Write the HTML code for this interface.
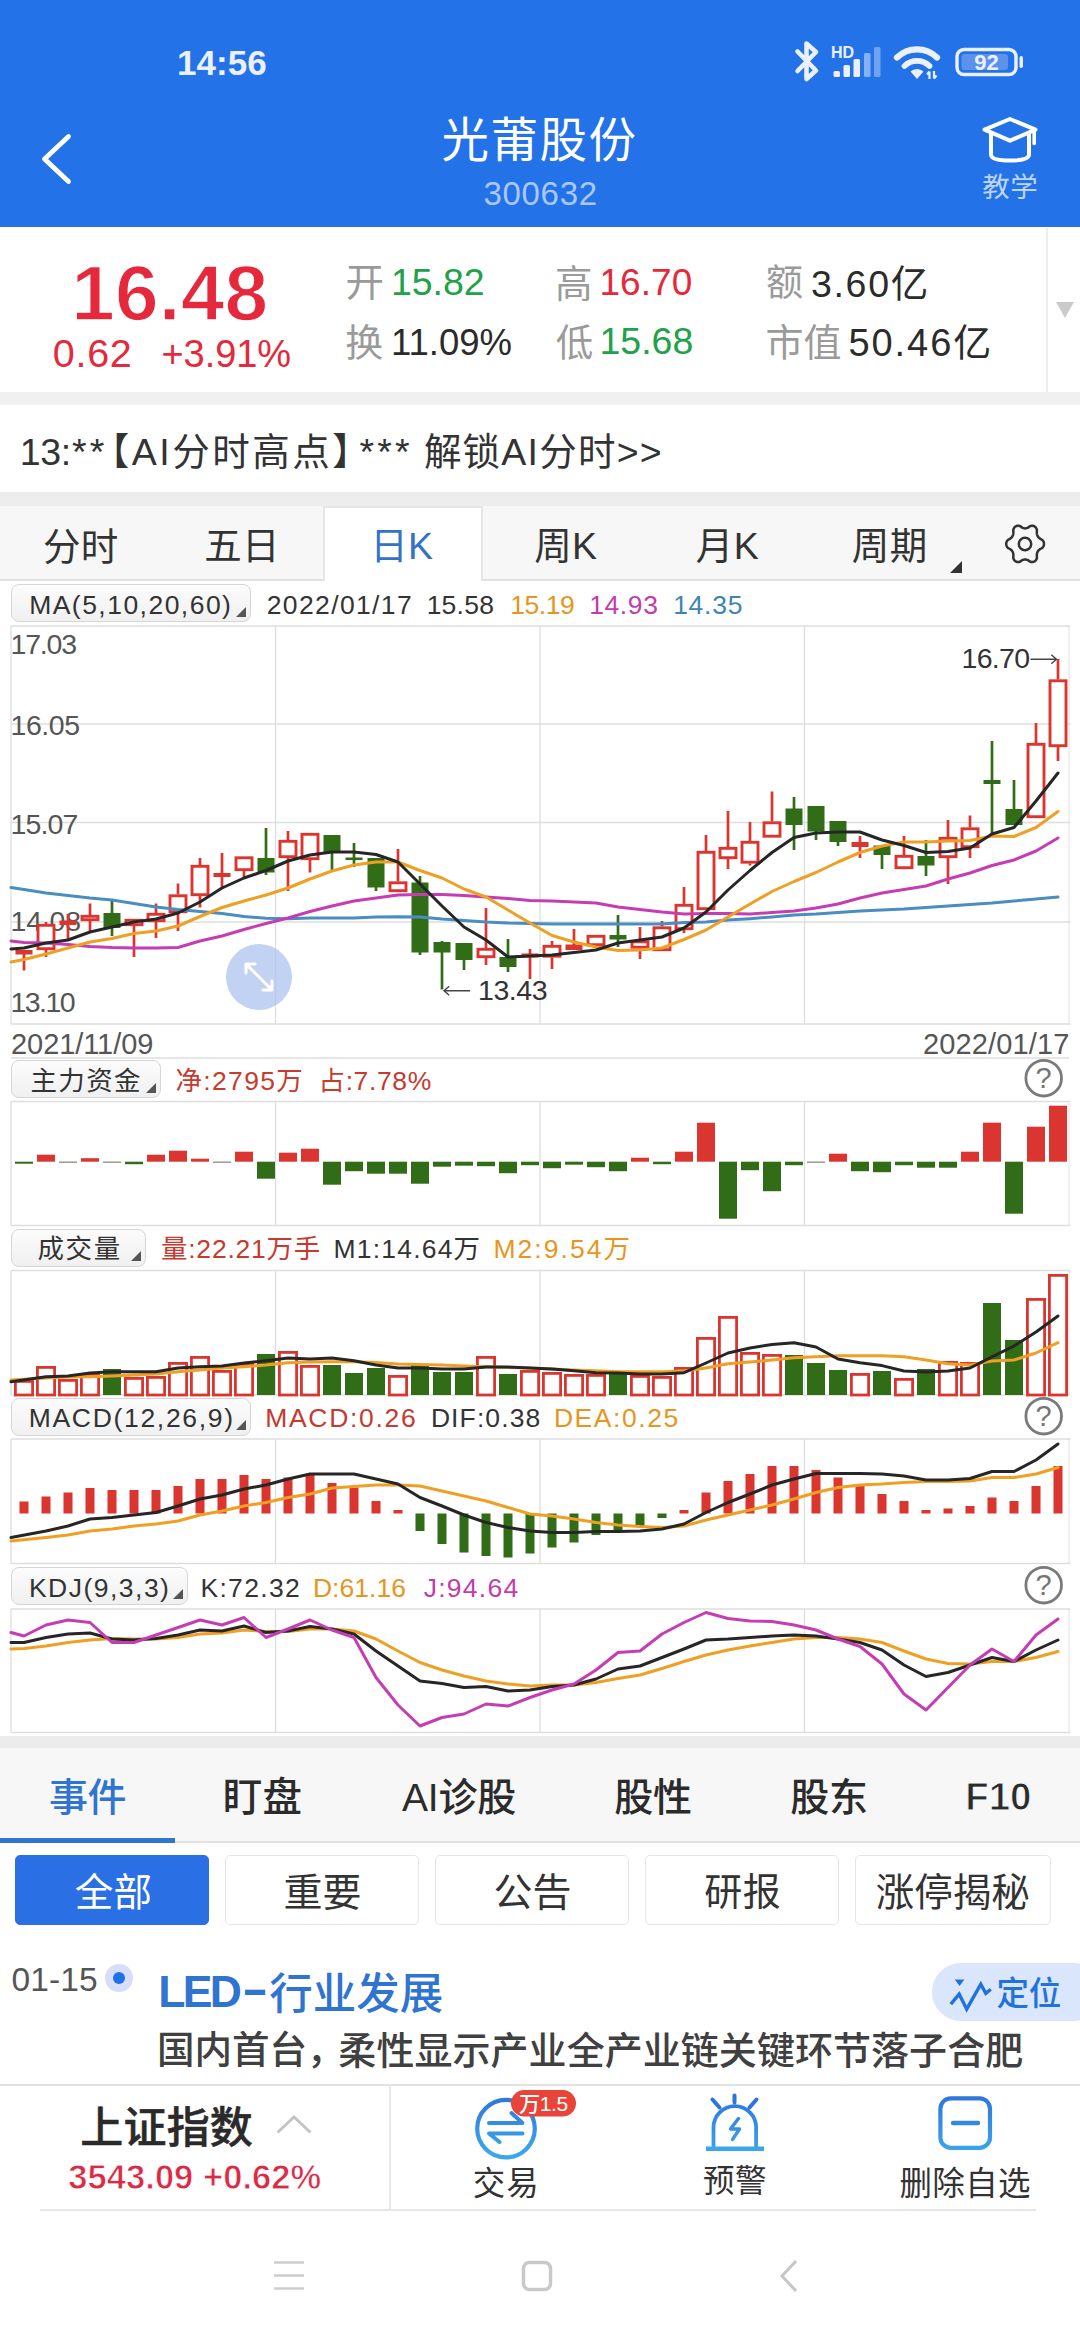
<!DOCTYPE html><html lang="zh-CN"><head><meta charset="utf-8"><meta name="viewport" content="width=1080">
<title>光莆股份 300632</title><style>
html,body{margin:0;padding:0;}
body{width:1080px;height:2340px;position:relative;overflow:hidden;background:#fff;font-family:"Liberation Sans", "Noto Sans CJK SC", sans-serif;}
.a{position:absolute;}
.t{position:absolute;white-space:nowrap;}
.btn{position:absolute;box-sizing:border-box;border:1.5px solid #D6D6D6;border-radius:8px;background:linear-gradient(#FCFCFC,#F0F0F0);}
.btn i{position:absolute;right:4px;bottom:4.5px;width:0;height:0;border-left:10px solid transparent;border-bottom:10px solid #555;}
.fb{position:absolute;box-sizing:border-box;border:1.5px solid #E6E6E6;border-radius:5px;background:#fff;top:1855px;height:70px;}
.q{position:absolute;width:34px;text-align:center;font-size:29px;line-height:35px;color:#747474;left:1026.7px;}
</style></head><body>
<div class="a" style="left:0;top:0;width:1080px;height:227px;background:#2372E7"></div>
<div class="a" style="left:0;top:392px;width:1080px;height:13px;background:#F0F0F0"></div>
<div class="a" style="left:0;top:492px;width:1080px;height:14px;background:#EDEDED"></div>
<div class="a" style="left:1046px;top:228px;width:2px;height:164px;background:#EDEDED"></div>
<div class="a" style="left:1055.5px;top:302px;width:0;height:0;border-left:9px solid transparent;border-right:9px solid transparent;border-top:16px solid #CACACA"></div>
<div class="a" style="left:0;top:506px;width:1080px;height:74.5px;background:#F7F7F7;border-bottom:2.5px solid #E0E0E0;box-sizing:border-box"></div>
<div class="a" style="left:323px;top:506px;width:160px;height:75px;background:#fff;border:2px solid #E6E6E6;border-bottom:none;box-sizing:border-box"></div>
<div class="a" style="left:950px;top:561px;width:0;height:0;border-left:12px solid transparent;border-bottom:12px solid #333"></div>
<div class="btn" style="left:11px;top:584px;width:240px;height:38px"><i></i></div>
<div class="btn" style="left:11px;top:1060px;width:150px;height:38px"><i></i></div>
<div class="btn" style="left:11px;top:1228.5px;width:135px;height:38px"><i></i></div>
<div class="btn" style="left:11px;top:1397.5px;width:240px;height:38px"><i></i></div>
<div class="btn" style="left:11px;top:1566.5px;width:176.5px;height:38px"><i></i></div>
<svg class="a" style="left:0;top:0" width="1080" height="2340" viewBox="0 0 1080 2340">
<line x1="11" y1="626" x2="11" y2="1024" stroke="#DEDEDE" stroke-width="1.3"/>
<line x1="275.5" y1="626" x2="275.5" y2="1024" stroke="#DEDEDE" stroke-width="1.3"/>
<line x1="540" y1="626" x2="540" y2="1024" stroke="#DEDEDE" stroke-width="1.3"/>
<line x1="804.5" y1="626" x2="804.5" y2="1024" stroke="#DEDEDE" stroke-width="1.3"/>
<line x1="1069" y1="626" x2="1069" y2="1024" stroke="#E8E8E8" stroke-width="1.3"/>
<line x1="11" y1="626" x2="1070.5" y2="626" stroke="#DEDEDE" stroke-width="1.3"/>
<line x1="11" y1="1024" x2="1070.5" y2="1024" stroke="#DEDEDE" stroke-width="1.3"/>
<line x1="11" y1="724" x2="1070.5" y2="724" stroke="#DEDEDE" stroke-width="1.3"/>
<line x1="11" y1="822.5" x2="1070.5" y2="822.5" stroke="#DEDEDE" stroke-width="1.3"/>
<line x1="11" y1="922" x2="1070.5" y2="922" stroke="#DEDEDE" stroke-width="1.3"/>
<line x1="11" y1="1101.5" x2="11" y2="1225.5" stroke="#DEDEDE" stroke-width="1.3"/>
<line x1="275.5" y1="1101.5" x2="275.5" y2="1225.5" stroke="#DEDEDE" stroke-width="1.3"/>
<line x1="540" y1="1101.5" x2="540" y2="1225.5" stroke="#DEDEDE" stroke-width="1.3"/>
<line x1="804.5" y1="1101.5" x2="804.5" y2="1225.5" stroke="#DEDEDE" stroke-width="1.3"/>
<line x1="1069" y1="1101.5" x2="1069" y2="1225.5" stroke="#E8E8E8" stroke-width="1.3"/>
<line x1="11" y1="1101.5" x2="1070.5" y2="1101.5" stroke="#DEDEDE" stroke-width="1.3"/>
<line x1="11" y1="1225.5" x2="1070.5" y2="1225.5" stroke="#DEDEDE" stroke-width="1.3"/>
<line x1="11" y1="1270.5" x2="11" y2="1395" stroke="#DEDEDE" stroke-width="1.3"/>
<line x1="275.5" y1="1270.5" x2="275.5" y2="1395" stroke="#DEDEDE" stroke-width="1.3"/>
<line x1="540" y1="1270.5" x2="540" y2="1395" stroke="#DEDEDE" stroke-width="1.3"/>
<line x1="804.5" y1="1270.5" x2="804.5" y2="1395" stroke="#DEDEDE" stroke-width="1.3"/>
<line x1="1069" y1="1270.5" x2="1069" y2="1395" stroke="#E8E8E8" stroke-width="1.3"/>
<line x1="11" y1="1270.5" x2="1070.5" y2="1270.5" stroke="#DEDEDE" stroke-width="1.3"/>
<line x1="11" y1="1395" x2="1070.5" y2="1395" stroke="#DEDEDE" stroke-width="1.3"/>
<line x1="11" y1="1439" x2="11" y2="1563.5" stroke="#DEDEDE" stroke-width="1.3"/>
<line x1="275.5" y1="1439" x2="275.5" y2="1563.5" stroke="#DEDEDE" stroke-width="1.3"/>
<line x1="540" y1="1439" x2="540" y2="1563.5" stroke="#DEDEDE" stroke-width="1.3"/>
<line x1="804.5" y1="1439" x2="804.5" y2="1563.5" stroke="#DEDEDE" stroke-width="1.3"/>
<line x1="1069" y1="1439" x2="1069" y2="1563.5" stroke="#E8E8E8" stroke-width="1.3"/>
<line x1="11" y1="1439" x2="1070.5" y2="1439" stroke="#DEDEDE" stroke-width="1.3"/>
<line x1="11" y1="1563.5" x2="1070.5" y2="1563.5" stroke="#DEDEDE" stroke-width="1.3"/>
<line x1="11" y1="1609" x2="11" y2="1732.5" stroke="#DEDEDE" stroke-width="1.3"/>
<line x1="275.5" y1="1609" x2="275.5" y2="1732.5" stroke="#DEDEDE" stroke-width="1.3"/>
<line x1="540" y1="1609" x2="540" y2="1732.5" stroke="#DEDEDE" stroke-width="1.3"/>
<line x1="804.5" y1="1609" x2="804.5" y2="1732.5" stroke="#DEDEDE" stroke-width="1.3"/>
<line x1="1069" y1="1609" x2="1069" y2="1732.5" stroke="#E8E8E8" stroke-width="1.3"/>
<line x1="11" y1="1609" x2="1070.5" y2="1609" stroke="#DEDEDE" stroke-width="1.3"/>
<line x1="11" y1="1732.5" x2="1070.5" y2="1732.5" stroke="#DEDEDE" stroke-width="1.3"/>
<line x1="11" y1="1058" x2="1069" y2="1058" stroke="#DEDEDE" stroke-width="1.5"/>
</svg>
<div class="t" style="left:10.51px;top:625.83px;font-size:28.5px;line-height:37px;color:#555555;letter-spacing:-1.2px;">17.03</div>
<div class="t" style="left:10.51px;top:706.83px;font-size:28.5px;line-height:37px;color:#555555;letter-spacing:-0.45px;">16.05</div>
<div class="t" style="left:10.51px;top:805.83px;font-size:28.5px;line-height:37px;color:#555555;letter-spacing:-0.88px;">15.07</div>
<div class="t" style="left:10.51px;top:902.83px;font-size:28.5px;line-height:37px;color:#555555;letter-spacing:-0.2px;">14.08</div>
<div class="t" style="left:10.51px;top:983.83px;font-size:28.5px;line-height:37px;color:#555555;letter-spacing:-1.57px;">13.10</div>
<svg class="a" style="left:0;top:0" width="1080" height="2340" viewBox="0 0 1080 2340">
<line x1="24" y1="950" x2="24" y2="970.5" stroke="#DA352F" stroke-width="2.7"/>
<rect x="15.5" y="950" width="17" height="4.5" fill="#DA352F"/>
<line x1="46" y1="922" x2="46" y2="924" stroke="#DA352F" stroke-width="2.7"/>
<line x1="46" y1="950" x2="46" y2="957" stroke="#DA352F" stroke-width="2.7"/>
<rect x="38.0" y="925.3" width="16.0" height="23.4" fill="#fff" stroke="#DA352F" stroke-width="2.9"/>
<line x1="68" y1="914" x2="68" y2="941" stroke="#DA352F" stroke-width="2.7"/>
<rect x="59.5" y="920.5" width="17" height="4.5" fill="#DA352F"/>
<line x1="90" y1="903.5" x2="90" y2="915" stroke="#DA352F" stroke-width="2.7"/>
<line x1="90" y1="921" x2="90" y2="931" stroke="#DA352F" stroke-width="2.7"/>
<rect x="82.0" y="916.3" width="16.0" height="3.4" fill="#fff" stroke="#DA352F" stroke-width="2.9"/>
<line x1="112" y1="900" x2="112" y2="936" stroke="#316C16" stroke-width="2.7"/>
<rect x="103.5" y="913" width="17" height="15" fill="#316C16"/>
<line x1="134" y1="919" x2="134" y2="919" stroke="#DA352F" stroke-width="2.7"/>
<line x1="134" y1="926" x2="134" y2="957" stroke="#DA352F" stroke-width="2.7"/>
<rect x="126.0" y="920.3" width="16.0" height="4.4" fill="#fff" stroke="#DA352F" stroke-width="2.9"/>
<line x1="156" y1="903.5" x2="156" y2="913" stroke="#DA352F" stroke-width="2.7"/>
<line x1="156" y1="922" x2="156" y2="938" stroke="#DA352F" stroke-width="2.7"/>
<rect x="148.0" y="914.3" width="16.0" height="6.4" fill="#fff" stroke="#DA352F" stroke-width="2.9"/>
<line x1="178" y1="883.5" x2="178" y2="894.5" stroke="#DA352F" stroke-width="2.7"/>
<line x1="178" y1="913" x2="178" y2="931" stroke="#DA352F" stroke-width="2.7"/>
<rect x="170.0" y="895.8" width="16.0" height="15.9" fill="#fff" stroke="#DA352F" stroke-width="2.9"/>
<line x1="200" y1="858" x2="200" y2="865" stroke="#DA352F" stroke-width="2.7"/>
<line x1="200" y1="896" x2="200" y2="907.5" stroke="#DA352F" stroke-width="2.7"/>
<rect x="192.0" y="866.3" width="16.0" height="28.4" fill="#fff" stroke="#DA352F" stroke-width="2.9"/>
<line x1="222" y1="853" x2="222" y2="889" stroke="#DA352F" stroke-width="2.7"/>
<rect x="213.5" y="873" width="17" height="4" fill="#DA352F"/>
<line x1="244" y1="856.5" x2="244" y2="856.5" stroke="#DA352F" stroke-width="2.7"/>
<line x1="244" y1="871" x2="244" y2="879" stroke="#DA352F" stroke-width="2.7"/>
<rect x="236.0" y="857.8" width="16.0" height="11.9" fill="#fff" stroke="#DA352F" stroke-width="2.9"/>
<line x1="266" y1="828" x2="266" y2="875" stroke="#316C16" stroke-width="2.7"/>
<rect x="257.5" y="858" width="17" height="14.5" fill="#316C16"/>
<line x1="288" y1="831" x2="288" y2="840" stroke="#DA352F" stroke-width="2.7"/>
<line x1="288" y1="858" x2="288" y2="891" stroke="#DA352F" stroke-width="2.7"/>
<rect x="280.0" y="841.3" width="16.0" height="15.4" fill="#fff" stroke="#DA352F" stroke-width="2.9"/>
<line x1="310" y1="833" x2="310" y2="833" stroke="#DA352F" stroke-width="2.7"/>
<line x1="310" y1="860" x2="310" y2="872.5" stroke="#DA352F" stroke-width="2.7"/>
<rect x="302.0" y="834.3" width="16.0" height="24.4" fill="#fff" stroke="#DA352F" stroke-width="2.9"/>
<line x1="332" y1="835" x2="332" y2="870" stroke="#316C16" stroke-width="2.7"/>
<rect x="323.5" y="835" width="17" height="18" fill="#316C16"/>
<line x1="354" y1="843" x2="354" y2="867" stroke="#316C16" stroke-width="2.7"/>
<rect x="345.5" y="857.5" width="17" height="2.5" fill="#316C16"/>
<line x1="376" y1="858" x2="376" y2="891" stroke="#316C16" stroke-width="2.7"/>
<rect x="367.5" y="858" width="17" height="29.5" fill="#316C16"/>
<line x1="398" y1="849" x2="398" y2="881.5" stroke="#DA352F" stroke-width="2.7"/>
<line x1="398" y1="892" x2="398" y2="892" stroke="#DA352F" stroke-width="2.7"/>
<rect x="390.0" y="882.8" width="16.0" height="7.9" fill="#fff" stroke="#DA352F" stroke-width="2.9"/>
<line x1="420" y1="876" x2="420" y2="955" stroke="#316C16" stroke-width="2.7"/>
<rect x="411.5" y="882.5" width="17" height="70.0" fill="#316C16"/>
<line x1="442" y1="941" x2="442" y2="989.5" stroke="#316C16" stroke-width="2.7"/>
<rect x="433.5" y="942" width="17" height="10.5" fill="#316C16"/>
<line x1="464" y1="943" x2="464" y2="970" stroke="#316C16" stroke-width="2.7"/>
<rect x="455.5" y="943" width="17" height="17" fill="#316C16"/>
<line x1="486" y1="908" x2="486" y2="948" stroke="#DA352F" stroke-width="2.7"/>
<line x1="486" y1="958" x2="486" y2="965" stroke="#DA352F" stroke-width="2.7"/>
<rect x="478.0" y="949.3" width="16.0" height="7.4" fill="#fff" stroke="#DA352F" stroke-width="2.9"/>
<line x1="508" y1="939" x2="508" y2="972" stroke="#316C16" stroke-width="2.7"/>
<rect x="499.5" y="957" width="17" height="10" fill="#316C16"/>
<line x1="530" y1="949" x2="530" y2="979" stroke="#DA352F" stroke-width="2.7"/>
<rect x="521.5" y="953.5" width="17" height="4.0" fill="#DA352F"/>
<line x1="552" y1="941" x2="552" y2="945" stroke="#DA352F" stroke-width="2.7"/>
<line x1="552" y1="957.5" x2="552" y2="969" stroke="#DA352F" stroke-width="2.7"/>
<rect x="544.0" y="946.3" width="16.0" height="9.9" fill="#fff" stroke="#DA352F" stroke-width="2.9"/>
<line x1="574" y1="929" x2="574" y2="950" stroke="#DA352F" stroke-width="2.7"/>
<rect x="565.5" y="944.5" width="17" height="5.5" fill="#DA352F"/>
<line x1="596" y1="935" x2="596" y2="935" stroke="#DA352F" stroke-width="2.7"/>
<line x1="596" y1="946" x2="596" y2="946" stroke="#DA352F" stroke-width="2.7"/>
<rect x="588.0" y="936.3" width="16.0" height="8.4" fill="#fff" stroke="#DA352F" stroke-width="2.9"/>
<line x1="618" y1="915" x2="618" y2="947" stroke="#316C16" stroke-width="2.7"/>
<rect x="609.5" y="935" width="17" height="4.5" fill="#316C16"/>
<line x1="640" y1="927" x2="640" y2="940.5" stroke="#DA352F" stroke-width="2.7"/>
<line x1="640" y1="948.5" x2="640" y2="959" stroke="#DA352F" stroke-width="2.7"/>
<rect x="632.0" y="941.8" width="16.0" height="5.4" fill="#fff" stroke="#DA352F" stroke-width="2.9"/>
<line x1="662" y1="921" x2="662" y2="926.5" stroke="#DA352F" stroke-width="2.7"/>
<line x1="662" y1="951" x2="662" y2="951" stroke="#DA352F" stroke-width="2.7"/>
<rect x="654.0" y="927.8" width="16.0" height="21.9" fill="#fff" stroke="#DA352F" stroke-width="2.9"/>
<line x1="684" y1="887" x2="684" y2="904" stroke="#DA352F" stroke-width="2.7"/>
<line x1="684" y1="930" x2="684" y2="933" stroke="#DA352F" stroke-width="2.7"/>
<rect x="676.0" y="905.3" width="16.0" height="23.4" fill="#fff" stroke="#DA352F" stroke-width="2.9"/>
<line x1="706" y1="835" x2="706" y2="851" stroke="#DA352F" stroke-width="2.7"/>
<line x1="706" y1="910" x2="706" y2="910" stroke="#DA352F" stroke-width="2.7"/>
<rect x="698.0" y="852.3" width="16.0" height="56.4" fill="#fff" stroke="#DA352F" stroke-width="2.9"/>
<line x1="728" y1="811" x2="728" y2="847" stroke="#DA352F" stroke-width="2.7"/>
<line x1="728" y1="859" x2="728" y2="869" stroke="#DA352F" stroke-width="2.7"/>
<rect x="720.0" y="848.3" width="16.0" height="9.4" fill="#fff" stroke="#DA352F" stroke-width="2.9"/>
<line x1="750" y1="822" x2="750" y2="841" stroke="#DA352F" stroke-width="2.7"/>
<line x1="750" y1="863.5" x2="750" y2="865.5" stroke="#DA352F" stroke-width="2.7"/>
<rect x="742.0" y="842.3" width="16.0" height="19.9" fill="#fff" stroke="#DA352F" stroke-width="2.9"/>
<line x1="772" y1="791.5" x2="772" y2="821.5" stroke="#DA352F" stroke-width="2.7"/>
<line x1="772" y1="837.5" x2="772" y2="837.5" stroke="#DA352F" stroke-width="2.7"/>
<rect x="764.0" y="822.8" width="16.0" height="13.4" fill="#fff" stroke="#DA352F" stroke-width="2.9"/>
<line x1="794" y1="797" x2="794" y2="850" stroke="#316C16" stroke-width="2.7"/>
<rect x="785.5" y="808.5" width="17" height="16.5" fill="#316C16"/>
<line x1="816" y1="806" x2="816" y2="840" stroke="#316C16" stroke-width="2.7"/>
<rect x="807.5" y="806" width="17" height="25.5" fill="#316C16"/>
<line x1="838" y1="821" x2="838" y2="846" stroke="#316C16" stroke-width="2.7"/>
<rect x="829.5" y="821" width="17" height="21" fill="#316C16"/>
<line x1="860" y1="836" x2="860" y2="858" stroke="#DA352F" stroke-width="2.7"/>
<rect x="851.5" y="842" width="17" height="5" fill="#DA352F"/>
<line x1="882" y1="845.5" x2="882" y2="869" stroke="#316C16" stroke-width="2.7"/>
<rect x="873.5" y="845.5" width="17" height="9.5" fill="#316C16"/>
<line x1="904" y1="836" x2="904" y2="855" stroke="#DA352F" stroke-width="2.7"/>
<line x1="904" y1="869" x2="904" y2="869" stroke="#DA352F" stroke-width="2.7"/>
<rect x="896.0" y="856.3" width="16.0" height="11.4" fill="#fff" stroke="#DA352F" stroke-width="2.9"/>
<line x1="926" y1="840" x2="926" y2="876" stroke="#316C16" stroke-width="2.7"/>
<rect x="917.5" y="856" width="17" height="9.5" fill="#316C16"/>
<line x1="948" y1="820" x2="948" y2="837" stroke="#DA352F" stroke-width="2.7"/>
<line x1="948" y1="858" x2="948" y2="884" stroke="#DA352F" stroke-width="2.7"/>
<rect x="940.0" y="838.3" width="16.0" height="18.4" fill="#fff" stroke="#DA352F" stroke-width="2.9"/>
<line x1="970" y1="815.5" x2="970" y2="827.5" stroke="#DA352F" stroke-width="2.7"/>
<line x1="970" y1="848" x2="970" y2="858" stroke="#DA352F" stroke-width="2.7"/>
<rect x="962.0" y="828.8" width="16.0" height="17.9" fill="#fff" stroke="#DA352F" stroke-width="2.9"/>
<line x1="992" y1="741" x2="992" y2="834" stroke="#316C16" stroke-width="2.7"/>
<rect x="983.5" y="780" width="17" height="4" fill="#316C16"/>
<line x1="1014" y1="780" x2="1014" y2="825" stroke="#316C16" stroke-width="2.7"/>
<rect x="1005.5" y="809" width="17" height="16" fill="#316C16"/>
<line x1="1036" y1="723" x2="1036" y2="743" stroke="#DA352F" stroke-width="2.7"/>
<line x1="1036" y1="818" x2="1036" y2="818" stroke="#DA352F" stroke-width="2.7"/>
<rect x="1028.0" y="744.3" width="16.0" height="72.4" fill="#fff" stroke="#DA352F" stroke-width="2.9"/>
<line x1="1058" y1="659" x2="1058" y2="679.5" stroke="#DA352F" stroke-width="2.7"/>
<line x1="1058" y1="747" x2="1058" y2="761" stroke="#DA352F" stroke-width="2.7"/>
<rect x="1050.0" y="680.8" width="16.0" height="64.9" fill="#fff" stroke="#DA352F" stroke-width="2.9"/>
<polyline points="11.0,887.5 24.0,889.5 46.0,893.0 68.0,895.5 90.0,898.0 112.0,900.0 134.0,903.5 156.0,907.0 178.0,909.5 200.0,911.5 222.0,913.5 244.0,916.5 266.0,918.3 288.0,918.7 310.0,918.0 332.0,918.0 354.0,918.0 376.0,917.0 398.0,916.7 420.0,917.0 442.0,919.0 464.0,920.5 486.0,922.0 508.0,923.0 530.0,923.5 552.0,924.0 574.0,924.0 596.0,924.0 618.0,924.0 640.0,924.0 662.0,924.0 684.0,922.5 706.0,922.0 728.0,920.0 750.0,918.7 772.0,917.0 794.0,915.0 816.0,914.0 838.0,912.5 860.0,911.0 882.0,910.0 904.0,909.0 926.0,907.5 948.0,906.0 970.0,904.5 992.0,903.0 1014.0,901.0 1036.0,899.0 1058.0,897.0" fill="none" stroke="#4A8DC0" stroke-width="3" stroke-linejoin="round" stroke-linecap="round"/>
<polyline points="11.0,941.0 24.0,942.5 46.0,943.0 68.0,944.5 90.0,946.5 112.0,947.5 134.0,948.0 156.0,948.0 178.0,947.5 200.0,941.0 222.0,936.0 244.0,929.5 266.0,923.5 288.0,918.0 310.0,911.5 332.0,906.0 354.0,901.0 376.0,898.0 398.0,895.0 420.0,894.5 442.0,894.5 464.0,895.5 486.0,897.0 508.0,898.5 530.0,900.5 552.0,901.0 574.0,902.0 596.0,903.0 618.0,907.0 640.0,909.5 662.0,912.0 684.0,914.0 706.0,913.5 728.0,913.5 750.0,914.0 772.0,912.5 794.0,911.0 816.0,908.0 838.0,904.0 860.0,898.0 882.0,893.0 904.0,889.5 926.0,886.0 948.0,879.0 970.0,873.0 992.0,865.5 1014.0,860.0 1036.0,851.0 1058.0,838.0" fill="none" stroke="#C63DB3" stroke-width="3" stroke-linejoin="round" stroke-linecap="round"/>
<polyline points="11.0,962.0 24.0,959.5 46.0,954.0 68.0,948.0 90.0,942.0 112.0,938.5 134.0,933.5 156.0,931.0 178.0,926.0 200.0,916.5 222.0,907.5 244.0,901.0 266.0,895.0 288.0,888.0 310.0,879.0 332.0,871.0 354.0,865.0 376.0,862.0 398.0,862.0 420.0,870.5 442.0,878.0 464.0,889.0 486.0,897.0 508.0,910.0 530.0,923.0 552.0,935.5 574.0,942.0 596.0,947.0 618.0,950.5 640.0,950.0 662.0,948.0 684.0,939.5 706.0,930.0 728.0,917.0 750.0,904.0 772.0,891.5 794.0,881.5 816.0,872.5 838.0,862.0 860.0,852.5 882.0,846.0 904.0,842.0 926.0,842.0 948.0,841.0 970.0,840.5 992.0,836.0 1014.0,836.5 1036.0,827.5 1058.0,811.5" fill="none" stroke="#EFA024" stroke-width="3" stroke-linejoin="round" stroke-linecap="round"/>
<polyline points="11.0,949.0 24.0,948.0 46.0,943.0 68.0,940.0 90.0,932.0 112.0,927.0 134.0,922.0 156.0,919.0 178.0,913.0 200.0,902.0 222.0,888.0 244.0,878.0 266.0,870.5 288.0,861.0 310.0,855.0 332.0,852.0 354.0,852.0 376.0,854.5 398.0,862.0 420.0,884.0 442.0,906.0 464.0,927.0 486.0,940.0 508.0,957.0 530.0,956.0 552.0,955.0 574.0,952.5 596.0,950.0 618.0,943.0 640.0,940.0 662.0,937.0 684.0,928.0 706.0,912.0 728.0,890.0 750.0,870.5 772.0,852.5 794.0,837.5 816.0,833.0 838.0,832.0 860.0,832.0 882.0,840.0 904.0,845.5 926.0,852.5 948.0,851.5 970.0,848.0 992.0,834.0 1014.0,827.5 1036.0,801.0 1058.0,773.0" fill="none" stroke="#262626" stroke-width="3" stroke-linejoin="round" stroke-linecap="round"/>
<path d="M1030.500 659.300H1056.500M1051.300 654.800l5.200 4.500-5.200 4.500" fill="none" stroke="#444" stroke-width="1.400"/>
<path d="M470 990.800H444M449.200 986.300l-5.200 4.500 5.200 4.500" fill="none" stroke="#444" stroke-width="1.400"/>
<circle cx="259" cy="977" r="33" fill="#A9C1EE" fill-opacity="0.72"/>
<path d="M246 964L272 990M246 973v-9h9M272 981v9h-9" fill="none" stroke="#fff" stroke-width="3" stroke-linecap="round" stroke-linejoin="round"/>
<rect x="15" y="1161.7" width="18" height="2" fill="#316C16"/>
<rect x="37" y="1154.7" width="18" height="7" fill="#DA352F"/>
<rect x="59" y="1161.7" width="18" height="0.8" fill="#3a4a30"/>
<rect x="81" y="1158.2" width="18" height="3.5" fill="#DA352F"/>
<rect x="103" y="1161.7" width="18" height="0.8" fill="#3a4a30"/>
<rect x="125" y="1161.7" width="18" height="2.5" fill="#316C16"/>
<rect x="147" y="1154.7" width="18" height="7" fill="#DA352F"/>
<rect x="169" y="1150.7" width="18" height="11" fill="#DA352F"/>
<rect x="191" y="1158.7" width="18" height="3" fill="#DA352F"/>
<rect x="213" y="1161.7" width="18" height="0.8" fill="#3a4a30"/>
<rect x="235" y="1151.7" width="18" height="10" fill="#DA352F"/>
<rect x="257" y="1161.7" width="18" height="17" fill="#316C16"/>
<rect x="279" y="1152.7" width="18" height="9" fill="#DA352F"/>
<rect x="301" y="1148.7" width="18" height="13" fill="#DA352F"/>
<rect x="323" y="1161.7" width="18" height="23" fill="#316C16"/>
<rect x="345" y="1161.7" width="18" height="9.5" fill="#316C16"/>
<rect x="367" y="1161.7" width="18" height="12" fill="#316C16"/>
<rect x="389" y="1161.7" width="18" height="12" fill="#316C16"/>
<rect x="411" y="1161.7" width="18" height="22" fill="#316C16"/>
<rect x="433" y="1161.7" width="18" height="5" fill="#316C16"/>
<rect x="455" y="1161.7" width="18" height="4" fill="#316C16"/>
<rect x="477" y="1161.7" width="18" height="4.5" fill="#316C16"/>
<rect x="499" y="1161.7" width="18" height="11.5" fill="#316C16"/>
<rect x="521" y="1161.7" width="18" height="3.5" fill="#316C16"/>
<rect x="543" y="1161.7" width="18" height="6.5" fill="#316C16"/>
<rect x="565" y="1161.7" width="18" height="3" fill="#316C16"/>
<rect x="587" y="1161.7" width="18" height="5.5" fill="#316C16"/>
<rect x="609" y="1161.7" width="18" height="9.5" fill="#316C16"/>
<rect x="631" y="1157.7" width="18" height="4" fill="#DA352F"/>
<rect x="653" y="1161.7" width="18" height="2.5" fill="#316C16"/>
<rect x="675" y="1151.7" width="18" height="10" fill="#DA352F"/>
<rect x="697" y="1122.7" width="18" height="39" fill="#DA352F"/>
<rect x="719" y="1161.7" width="18" height="57" fill="#316C16"/>
<rect x="741" y="1161.7" width="18" height="8.5" fill="#316C16"/>
<rect x="763" y="1161.7" width="18" height="29.5" fill="#316C16"/>
<rect x="785" y="1161.7" width="18" height="3.5" fill="#316C16"/>
<rect x="807" y="1161.7" width="18" height="0.8" fill="#3a4a30"/>
<rect x="829" y="1153.7" width="18" height="8" fill="#DA352F"/>
<rect x="851" y="1161.7" width="18" height="9.5" fill="#316C16"/>
<rect x="873" y="1161.7" width="18" height="10.5" fill="#316C16"/>
<rect x="895" y="1161.7" width="18" height="3.5" fill="#316C16"/>
<rect x="917" y="1161.7" width="18" height="6" fill="#316C16"/>
<rect x="939" y="1161.7" width="18" height="6" fill="#316C16"/>
<rect x="961" y="1151.7" width="18" height="10" fill="#DA352F"/>
<rect x="983" y="1122.7" width="18" height="39" fill="#DA352F"/>
<rect x="1005" y="1161.7" width="18" height="52" fill="#316C16"/>
<rect x="1027" y="1126.7" width="18" height="35" fill="#DA352F"/>
<rect x="1049" y="1105.7" width="18" height="56" fill="#DA352F"/>
<rect x="15.4" y="1381.4" width="17.2" height="13.6" fill="#fff" stroke="#DA352F" stroke-width="2.8"/>
<rect x="37.4" y="1367.4" width="17.2" height="27.6" fill="#fff" stroke="#DA352F" stroke-width="2.8"/>
<rect x="59.4" y="1380.4" width="17.2" height="14.6" fill="#fff" stroke="#DA352F" stroke-width="2.8"/>
<rect x="81.4" y="1374.4" width="17.2" height="20.6" fill="#fff" stroke="#DA352F" stroke-width="2.8"/>
<rect x="103" y="1369" width="18" height="26" fill="#316C16"/>
<rect x="125.4" y="1378.4" width="17.2" height="16.6" fill="#fff" stroke="#DA352F" stroke-width="2.8"/>
<rect x="147.4" y="1377.4" width="17.2" height="17.6" fill="#fff" stroke="#DA352F" stroke-width="2.8"/>
<rect x="169.4" y="1363.4" width="17.2" height="31.6" fill="#fff" stroke="#DA352F" stroke-width="2.8"/>
<rect x="191.4" y="1357.4" width="17.2" height="37.6" fill="#fff" stroke="#DA352F" stroke-width="2.8"/>
<rect x="213.4" y="1371.4" width="17.2" height="23.6" fill="#fff" stroke="#DA352F" stroke-width="2.8"/>
<rect x="235.4" y="1364.4" width="17.2" height="30.6" fill="#fff" stroke="#DA352F" stroke-width="2.8"/>
<rect x="257" y="1354" width="18" height="41" fill="#316C16"/>
<rect x="279.4" y="1352.4" width="17.2" height="42.6" fill="#fff" stroke="#DA352F" stroke-width="2.8"/>
<rect x="301.4" y="1366.4" width="17.2" height="28.6" fill="#fff" stroke="#DA352F" stroke-width="2.8"/>
<rect x="323" y="1365" width="18" height="30" fill="#316C16"/>
<rect x="345" y="1373" width="18" height="22" fill="#316C16"/>
<rect x="367" y="1368" width="18" height="27" fill="#316C16"/>
<rect x="389.4" y="1376.4" width="17.2" height="18.6" fill="#fff" stroke="#DA352F" stroke-width="2.8"/>
<rect x="411" y="1365" width="18" height="30" fill="#316C16"/>
<rect x="433" y="1372" width="18" height="23" fill="#316C16"/>
<rect x="455" y="1372" width="18" height="23" fill="#316C16"/>
<rect x="477.4" y="1357.4" width="17.2" height="37.6" fill="#fff" stroke="#DA352F" stroke-width="2.8"/>
<rect x="499" y="1374" width="18" height="21" fill="#316C16"/>
<rect x="521.4" y="1371.4" width="17.2" height="23.6" fill="#fff" stroke="#DA352F" stroke-width="2.8"/>
<rect x="543.4" y="1373.4" width="17.2" height="21.6" fill="#fff" stroke="#DA352F" stroke-width="2.8"/>
<rect x="565.4" y="1375.4" width="17.2" height="19.6" fill="#fff" stroke="#DA352F" stroke-width="2.8"/>
<rect x="587.4" y="1375.4" width="17.2" height="19.6" fill="#fff" stroke="#DA352F" stroke-width="2.8"/>
<rect x="609" y="1373" width="18" height="22" fill="#316C16"/>
<rect x="631.4" y="1376.4" width="17.2" height="18.6" fill="#fff" stroke="#DA352F" stroke-width="2.8"/>
<rect x="653.4" y="1377.4" width="17.2" height="17.6" fill="#fff" stroke="#DA352F" stroke-width="2.8"/>
<rect x="675.4" y="1368.4" width="17.2" height="26.6" fill="#fff" stroke="#DA352F" stroke-width="2.8"/>
<rect x="697.4" y="1338.4" width="17.2" height="56.6" fill="#fff" stroke="#DA352F" stroke-width="2.8"/>
<rect x="719.4" y="1317.4" width="17.2" height="77.6" fill="#fff" stroke="#DA352F" stroke-width="2.8"/>
<rect x="741.4" y="1353.4" width="17.2" height="41.6" fill="#fff" stroke="#DA352F" stroke-width="2.8"/>
<rect x="763.4" y="1355.4" width="17.2" height="39.6" fill="#fff" stroke="#DA352F" stroke-width="2.8"/>
<rect x="785" y="1355" width="18" height="40" fill="#316C16"/>
<rect x="807" y="1363" width="18" height="32" fill="#316C16"/>
<rect x="829" y="1370" width="18" height="25" fill="#316C16"/>
<rect x="851.4" y="1374.4" width="17.2" height="20.6" fill="#fff" stroke="#DA352F" stroke-width="2.8"/>
<rect x="873" y="1371" width="18" height="24" fill="#316C16"/>
<rect x="895.4" y="1379.4" width="17.2" height="15.6" fill="#fff" stroke="#DA352F" stroke-width="2.8"/>
<rect x="917" y="1369" width="18" height="26" fill="#316C16"/>
<rect x="939.4" y="1362.4" width="17.2" height="32.6" fill="#fff" stroke="#DA352F" stroke-width="2.8"/>
<rect x="961.4" y="1363.4" width="17.2" height="31.6" fill="#fff" stroke="#DA352F" stroke-width="2.8"/>
<rect x="983" y="1303" width="18" height="92" fill="#316C16"/>
<rect x="1005" y="1340" width="18" height="55" fill="#316C16"/>
<rect x="1027.4" y="1299.4" width="17.2" height="95.6" fill="#fff" stroke="#DA352F" stroke-width="2.8"/>
<rect x="1049.4" y="1275.4" width="17.2" height="119.6" fill="#fff" stroke="#DA352F" stroke-width="2.8"/>
<polyline points="11.0,1380.0 46.0,1378.0 68.0,1377.0 90.0,1376.7 112.0,1376.0 134.0,1375.0 156.0,1374.0 178.0,1371.7 200.0,1370.0 222.0,1368.0 244.0,1366.7 266.0,1365.0 288.0,1362.7 310.0,1362.0 332.0,1361.7 354.0,1361.7 376.0,1362.5 398.0,1364.0 420.0,1364.5 442.0,1365.0 464.0,1366.0 486.0,1366.7 508.0,1367.5 530.0,1368.0 552.0,1369.0 574.0,1370.0 596.0,1370.7 618.0,1371.7 640.0,1371.7 662.0,1371.7 684.0,1371.0 706.0,1368.0 728.0,1363.8 750.0,1362.0 772.0,1360.0 794.0,1357.8 816.0,1356.8 838.0,1355.7 860.0,1355.7 882.0,1355.7 904.0,1356.8 926.0,1360.0 948.0,1363.8 970.0,1365.0 992.0,1361.0 1014.0,1360.0 1036.0,1353.0 1058.0,1342.7" fill="none" stroke="#EFA024" stroke-width="3" stroke-linejoin="round" stroke-linecap="round"/>
<polyline points="11.0,1381.7 46.0,1376.7 68.0,1376.0 90.0,1373.0 112.0,1371.7 134.0,1371.7 156.0,1371.7 178.0,1368.0 200.0,1366.7 222.0,1366.0 244.0,1363.0 266.0,1360.7 288.0,1358.0 310.0,1359.0 332.0,1358.0 354.0,1360.7 376.0,1365.0 398.0,1368.0 420.0,1368.0 442.0,1369.0 464.0,1369.0 486.0,1367.0 508.0,1367.0 530.0,1368.0 552.0,1369.0 574.0,1370.7 596.0,1372.7 618.0,1373.0 640.0,1374.0 662.0,1374.0 684.0,1372.7 706.0,1363.0 728.0,1353.0 750.0,1348.0 772.0,1344.5 794.0,1342.7 816.0,1347.0 838.0,1359.0 860.0,1362.7 882.0,1365.6 904.0,1371.0 926.0,1372.0 948.0,1371.0 970.0,1368.0 992.0,1356.8 1014.0,1346.0 1036.0,1332.0 1058.0,1316.0" fill="none" stroke="#262626" stroke-width="3" stroke-linejoin="round" stroke-linecap="round"/>
<rect x="19.5" y="1501.5" width="9" height="12" fill="#DA352F"/>
<rect x="41.5" y="1496.5" width="9" height="17" fill="#DA352F"/>
<rect x="63.5" y="1492.5" width="9" height="21" fill="#DA352F"/>
<rect x="85.5" y="1488.0" width="9" height="25.5" fill="#DA352F"/>
<rect x="107.5" y="1490.0" width="9" height="23.5" fill="#DA352F"/>
<rect x="129.5" y="1490.0" width="9" height="23.5" fill="#DA352F"/>
<rect x="151.5" y="1490.0" width="9" height="23.5" fill="#DA352F"/>
<rect x="173.5" y="1486.0" width="9" height="27.5" fill="#DA352F"/>
<rect x="195.5" y="1479.0" width="9" height="34.5" fill="#DA352F"/>
<rect x="217.5" y="1479.0" width="9" height="34.5" fill="#DA352F"/>
<rect x="239.5" y="1475.0" width="9" height="38.5" fill="#DA352F"/>
<rect x="261.5" y="1479.0" width="9" height="34.5" fill="#DA352F"/>
<rect x="283.5" y="1477.5" width="9" height="36" fill="#DA352F"/>
<rect x="305.5" y="1475.0" width="9" height="38.5" fill="#DA352F"/>
<rect x="327.5" y="1483.0" width="9" height="30.5" fill="#DA352F"/>
<rect x="349.5" y="1487.5" width="9" height="26" fill="#DA352F"/>
<rect x="371.5" y="1501.0" width="9" height="12.5" fill="#DA352F"/>
<rect x="393.5" y="1510.0" width="9" height="3.5" fill="#DA352F"/>
<rect x="415.5" y="1513.5" width="9" height="17.5" fill="#316C16"/>
<rect x="437.5" y="1513.5" width="9" height="30.5" fill="#316C16"/>
<rect x="459.5" y="1513.5" width="9" height="39" fill="#316C16"/>
<rect x="481.5" y="1513.5" width="9" height="42.5" fill="#316C16"/>
<rect x="503.5" y="1513.5" width="9" height="44" fill="#316C16"/>
<rect x="525.5" y="1513.5" width="9" height="40" fill="#316C16"/>
<rect x="547.5" y="1513.5" width="9" height="34" fill="#316C16"/>
<rect x="569.5" y="1513.5" width="9" height="29" fill="#316C16"/>
<rect x="591.5" y="1513.5" width="9" height="21.5" fill="#316C16"/>
<rect x="613.5" y="1513.5" width="9" height="16.5" fill="#316C16"/>
<rect x="635.5" y="1513.5" width="9" height="12.5" fill="#316C16"/>
<rect x="657.5" y="1513.5" width="9" height="4.5" fill="#316C16"/>
<rect x="679.5" y="1510.0" width="9" height="3.5" fill="#DA352F"/>
<rect x="701.5" y="1492.5" width="9" height="21" fill="#DA352F"/>
<rect x="723.5" y="1481.0" width="9" height="32.5" fill="#DA352F"/>
<rect x="745.5" y="1474.0" width="9" height="39.5" fill="#DA352F"/>
<rect x="767.5" y="1466.0" width="9" height="47.5" fill="#DA352F"/>
<rect x="789.5" y="1466.0" width="9" height="47.5" fill="#DA352F"/>
<rect x="811.5" y="1470.0" width="9" height="43.5" fill="#DA352F"/>
<rect x="833.5" y="1477.5" width="9" height="36" fill="#DA352F"/>
<rect x="855.5" y="1485.0" width="9" height="28.5" fill="#DA352F"/>
<rect x="877.5" y="1494.0" width="9" height="19.5" fill="#DA352F"/>
<rect x="899.5" y="1501.0" width="9" height="12.5" fill="#DA352F"/>
<rect x="921.5" y="1510.0" width="9" height="3.5" fill="#DA352F"/>
<rect x="943.5" y="1508.5" width="9" height="5" fill="#DA352F"/>
<rect x="965.5" y="1506.0" width="9" height="7.5" fill="#DA352F"/>
<rect x="987.5" y="1497.5" width="9" height="16" fill="#DA352F"/>
<rect x="1009.5" y="1501.0" width="9" height="12.5" fill="#DA352F"/>
<rect x="1031.5" y="1486.0" width="9" height="27.5" fill="#DA352F"/>
<rect x="1053.5" y="1466.0" width="9" height="47.5" fill="#DA352F"/>
<polyline points="11.0,1541.0 46.0,1537.5 68.0,1535.0 90.0,1531.0 112.0,1529.0 134.0,1526.0 156.0,1524.0 178.0,1521.0 200.0,1515.0 222.0,1511.0 244.0,1506.0 266.0,1502.5 288.0,1497.5 310.0,1494.0 332.0,1488.0 354.0,1486.5 376.0,1485.0 398.0,1485.0 420.0,1486.0 442.0,1491.0 464.0,1496.0 486.0,1501.0 508.0,1507.5 530.0,1514.0 552.0,1516.0 574.0,1519.0 596.0,1522.5 618.0,1525.0 640.0,1526.5 662.0,1527.5 684.0,1526.0 706.0,1520.0 728.0,1515.0 750.0,1510.0 772.0,1505.0 794.0,1499.0 816.0,1492.5 838.0,1487.5 860.0,1485.0 882.0,1484.0 904.0,1482.5 926.0,1481.5 948.0,1481.5 970.0,1481.0 992.0,1477.5 1014.0,1477.5 1036.0,1474.0 1058.0,1467.5" fill="none" stroke="#EFA024" stroke-width="3" stroke-linejoin="round" stroke-linecap="round"/>
<polyline points="11.0,1537.5 46.0,1531.0 68.0,1526.0 90.0,1519.0 112.0,1517.5 134.0,1515.0 156.0,1512.5 178.0,1506.0 200.0,1499.0 222.0,1495.0 244.0,1489.0 266.0,1485.0 288.0,1479.0 310.0,1474.0 332.0,1474.0 354.0,1474.0 376.0,1479.0 398.0,1484.0 420.0,1497.5 442.0,1506.0 464.0,1515.0 486.0,1522.5 508.0,1527.5 530.0,1531.0 552.0,1532.5 574.0,1532.5 596.0,1531.5 618.0,1531.5 640.0,1531.0 662.0,1529.0 684.0,1524.0 706.0,1512.5 728.0,1502.5 750.0,1494.0 772.0,1485.0 794.0,1479.0 816.0,1473.5 838.0,1473.5 860.0,1473.5 882.0,1474.0 904.0,1476.0 926.0,1480.0 948.0,1480.0 970.0,1478.5 992.0,1471.5 1014.0,1471.5 1036.0,1460.0 1058.0,1444.0" fill="none" stroke="#262626" stroke-width="3" stroke-linejoin="round" stroke-linecap="round"/>
<polyline points="11.0,1649.0 24.0,1648.5 46.0,1646.0 68.0,1642.5 90.0,1640.0 112.0,1638.5 134.0,1639.0 156.0,1639.0 178.0,1637.5 200.0,1634.0 222.0,1633.0 244.0,1630.0 266.0,1631.5 288.0,1631.5 310.0,1629.0 332.0,1629.0 354.0,1631.0 376.0,1639.0 398.0,1651.0 420.0,1662.5 442.0,1670.0 464.0,1676.0 486.0,1681.0 508.0,1684.0 530.0,1686.0 552.0,1685.0 574.0,1685.0 596.0,1682.5 618.0,1678.5 640.0,1675.0 662.0,1668.5 684.0,1661.5 706.0,1655.0 728.0,1650.0 750.0,1646.0 772.0,1642.5 794.0,1639.0 816.0,1637.5 838.0,1637.5 860.0,1639.0 882.0,1642.5 904.0,1651.0 926.0,1659.0 948.0,1663.5 970.0,1664.0 992.0,1661.5 1014.0,1661.5 1036.0,1657.5 1058.0,1651.5" fill="none" stroke="#EFA024" stroke-width="3" stroke-linejoin="round" stroke-linecap="round"/>
<polyline points="11.0,1642.5 24.0,1642.5 46.0,1637.5 68.0,1634.0 90.0,1633.0 112.0,1639.0 134.0,1640.0 156.0,1638.5 178.0,1635.0 200.0,1630.0 222.0,1631.0 244.0,1626.0 266.0,1632.5 288.0,1631.0 310.0,1626.5 332.0,1629.0 354.0,1634.0 376.0,1651.0 398.0,1666.0 420.0,1681.0 442.0,1683.5 464.0,1687.5 486.0,1686.5 508.0,1691.0 530.0,1690.0 552.0,1686.5 574.0,1685.0 596.0,1679.0 618.0,1669.0 640.0,1666.0 662.0,1657.5 684.0,1649.0 706.0,1640.0 728.0,1639.0 750.0,1637.5 772.0,1636.0 794.0,1635.0 816.0,1636.0 838.0,1639.0 860.0,1642.5 882.0,1650.0 904.0,1665.0 926.0,1676.5 948.0,1672.5 970.0,1665.0 992.0,1657.5 1014.0,1661.5 1036.0,1650.0 1058.0,1640.0" fill="none" stroke="#262626" stroke-width="3" stroke-linejoin="round" stroke-linecap="round"/>
<polyline points="11.0,1632.5 24.0,1636.0 46.0,1625.0 68.0,1620.0 90.0,1622.5 112.0,1642.5 134.0,1642.5 156.0,1635.0 178.0,1627.5 200.0,1620.0 222.0,1625.0 244.0,1617.5 266.0,1637.5 288.0,1629.0 310.0,1620.0 332.0,1630.0 354.0,1637.5 376.0,1677.5 398.0,1705.0 420.0,1726.0 442.0,1717.5 464.0,1714.0 486.0,1704.0 508.0,1706.0 530.0,1697.5 552.0,1690.0 574.0,1684.0 596.0,1670.0 618.0,1652.5 640.0,1651.0 662.0,1634.0 684.0,1622.5 706.0,1612.5 728.0,1618.5 750.0,1621.0 772.0,1621.5 794.0,1625.0 816.0,1630.0 838.0,1639.0 860.0,1646.5 882.0,1664.0 904.0,1694.0 926.0,1710.0 948.0,1687.5 970.0,1665.0 992.0,1649.0 1014.0,1661.5 1036.0,1635.0 1058.0,1619.0" fill="none" stroke="#C63DB3" stroke-width="3" stroke-linejoin="round" stroke-linecap="round"/>
<circle cx="1043.7" cy="1078.2" r="17.8" fill="#fff" stroke="#7A7A7A" stroke-width="2.8"/>
<circle cx="1043.7" cy="1416.2" r="17.8" fill="#fff" stroke="#7A7A7A" stroke-width="2.8"/>
<circle cx="1043.7" cy="1585.2" r="17.8" fill="#fff" stroke="#7A7A7A" stroke-width="2.8"/>
</svg>
<div class="q" style="top:1060.9px">?</div>
<div class="q" style="top:1398.9px">?</div>
<div class="q" style="top:1567.9px">?</div>
<div class="a" style="left:0;top:1736px;width:1080px;height:12px;background:#ECECEC"></div>
<div class="a" style="left:0;top:1748px;width:1080px;height:95px;background:#F7F7F7;border-bottom:2px solid #E2E2E2;box-sizing:border-box"></div>
<div class="a" style="left:0;top:1837.5px;width:175px;height:5px;background:#2F74D0"></div>
<div class="fb" style="left:15px;width:194px;background:#2A6FE3;border-color:#2A6FE3"></div>
<div class="fb" style="left:225px;width:194px"></div>
<div class="fb" style="left:435px;width:194px"></div>
<div class="fb" style="left:645px;width:194px"></div>
<div class="fb" style="left:855px;width:196px"></div>
<div class="a" style="left:105.300px;top:1964.300px;width:27.400px;height:27.400px;border-radius:50%;background:#D8DEF8"></div>
<div class="a" style="left:112.700px;top:1971.700px;width:12.600px;height:12.600px;border-radius:50%;background:#1F72E6"></div>
<div class="a" style="left:931.500px;top:1963.300px;width:170px;height:57.500px;border-radius:28.750px;background:#DAE6FC"></div>
<svg class="a" style="left:940px;top:1970px" width="60" height="46" viewBox="940 1970 60 46"><path d="M950.800 2004.200L959.200 1994.200L966.700 2009.200L980.800 1984.200L985.800 1993.300L990.800 1989.200" fill="none" stroke="#2272DC" stroke-width="3.400" stroke-linejoin="miter" stroke-linecap="butt"/><path d="M954.800 1979.500h9.600l-4.800 6.600z" fill="#2272DC"/></svg>
<div class="a" style="left:0;top:2083.5px;width:1080px;height:2px;background:#E2E2E2"></div>
<div class="a" style="left:389px;top:2085px;width:2px;height:124px;background:#E8E8E8"></div>
<div class="a" style="left:40px;top:2208.500px;width:996px;height:2px;background:#E6E6E6"></div>
<svg class="a" style="left:0;top:2085px" width="1080" height="255" viewBox="0 2085 1080 255"><defs><linearGradient id="bg" x1="0" y1="2095" x2="0" y2="2152" gradientUnits="userSpaceOnUse"><stop offset="0" stop-color="#2E74DC"/><stop offset="1" stop-color="#3BA6EA"/></linearGradient></defs><path d="M277.500 2132.500l16.500-15.500 16.500 15.500" fill="none" stroke="#C4C4C4" stroke-width="3"/><circle cx="506" cy="2128.600" r="28.800" fill="#fff" stroke="url(#bg)" stroke-width="4.200"/><path d="M489 2123h33.500l-11-10M522.500 2133.500h-33.500l10.500 8.500" fill="none" stroke="url(#bg)" stroke-width="4" stroke-linejoin="round" stroke-linecap="round"/><rect x="511" y="2090" width="65" height="26.500" rx="13.250" fill="#E8443A"/><path d="M713.500 2147v-19.500a21.300 21.300 0 0 1 42.600 0v19.500" fill="none" stroke="url(#bg)" stroke-width="3.800"/><path d="M706 2148.800h58" stroke="#3BA6EA" stroke-width="4.600"/><path d="M738.500 2118.500l-8 10.500h9l-7 10.500" fill="none" stroke="url(#bg)" stroke-width="3.400" stroke-linejoin="round" stroke-linecap="round"/><path d="M734.500 2095.500v7M712.500 2099.500l7 8M756.500 2099.500l-7 8" stroke="#2E74DC" stroke-width="4" stroke-linecap="round"/><rect x="940.400" y="2098.300" width="49.600" height="49.600" rx="10.500" fill="#fff" stroke="url(#bg)" stroke-width="4.200"/><path d="M953 2123h25" stroke="#3488E2" stroke-width="4.400" stroke-linecap="round"/><path d="M274 2262.500h30M274 2275.500h30M274 2288.500h30" stroke="#CDCDCD" stroke-width="2.600"/><rect x="523.500" y="2262.500" width="27" height="27" rx="6" fill="none" stroke="#C9C9C9" stroke-width="3.500"/><path d="M796 2261l-14 15 14 15" fill="none" stroke="#C6C6C6" stroke-width="3"/></svg>
<svg class="a" style="left:0;top:0" width="1080" height="227" viewBox="0 0 1080 227"><path d="M68.500 136.500L44.500 159L68.500 181.500" fill="none" stroke="#fff" stroke-width="4.800" stroke-linejoin="round" stroke-linecap="round"/><path d="M797.500 51.500l18.500 19-9.500 8.500V43.500l9.500 8.500-18.500 19" fill="none" stroke="#EAF1FD" stroke-width="4.600" stroke-linejoin="round" stroke-linecap="round"/><rect x="833.500" y="71" width="6.500" height="6" rx="1.500" fill="#EAF1FD"/><rect x="843.500" y="65" width="6.500" height="12" rx="1.500" fill="#EAF1FD"/><rect x="853.500" y="59" width="6.500" height="18" rx="1.500" fill="#EAF1FD"/><rect x="864" y="53" width="6.500" height="24" rx="1.500" fill="#86B2F4"/><rect x="874" y="47" width="6.500" height="30" rx="1.500" fill="#6FA3F1"/><path d="M897 57.500a28.500 28.500 0 0 1 40 0" fill="none" stroke="#EAF1FD" stroke-width="6.200" stroke-linecap="round"/><path d="M904.500 66a18 18 0 0 1 25 0" fill="none" stroke="#EAF1FD" stroke-width="5.800" stroke-linecap="round"/><path d="M910.500 71.500a9.500 9.500 0 0 1 13 0L917 79z" fill="#EAF1FD"/><path d="M929.500 71.500v7.500M934 71v7.500M927 74.500l2.500-3M936.500 75.500l-2.500 3" stroke="#EAF1FD" stroke-width="2.200" fill="none"/><rect x="957" y="49.500" width="59" height="25" rx="7" fill="none" stroke="#EAF1FD" stroke-width="3.400"/><rect x="961.500" y="54" width="46.500" height="16" rx="3" fill="#5C92EC"/><rect x="1019.500" y="56" width="3.500" height="12" rx="1.700" fill="#EAF1FD"/><path d="M984.500 129.600L1010 119L1035.500 129.600L1010 140.700z" fill="none" stroke="#fff" stroke-width="4" stroke-linejoin="round"/><path d="M991 134v20.500q0 6 19 6t19-6V134" fill="none" stroke="#fff" stroke-width="4" stroke-linejoin="round"/><path d="M1034.200 131v12.500" stroke="#fff" stroke-width="3.600" stroke-linecap="round"/></svg>
<svg class="a" style="left:1003px;top:522px" width="44" height="44" viewBox="-22 -22 44 44"><path fill="none" stroke="#333" stroke-width="2.500" stroke-linejoin="round" d="M19.0 -0.1L18.9 1.0L18.6 2.0L18.1 2.9L17.4 3.8L16.2 4.5L15.1 5.1L14.3 5.7L13.6 6.3L13.1 7.0L12.7 7.7L12.3 8.4L12.1 9.2L11.9 10.1L11.8 11.2L11.9 12.5L11.9 13.9L11.6 15.0L11.0 16.0L10.4 16.8L9.6 17.4L8.6 17.8L7.7 18.1L6.6 18.1L5.6 17.9L4.4 17.2L3.4 16.4L2.5 15.9L1.6 15.7L0.9 15.5L0.1 15.4L-0.7 15.5L-1.4 15.7L-2.3 15.9L-3.2 16.4L-4.2 17.2L-5.4 17.9L-6.4 18.1L-7.5 18.1L-8.4 17.8L-9.3 17.4L-10.2 16.8L-10.8 16.0L-11.4 15.0L-11.7 13.9L-11.7 12.5L-11.6 11.2L-11.7 10.1L-11.9 9.2L-12.1 8.4L-12.5 7.7L-12.9 7.0L-13.4 6.3L-14.1 5.7L-14.9 5.1L-16.0 4.5L-17.2 3.8L-17.9 2.9L-18.4 2.0L-18.7 1.0L-18.8 -0.1L-18.7 -1.2L-18.4 -2.2L-17.9 -3.1L-17.2 -4.0L-16.0 -4.7L-14.9 -5.3L-14.1 -5.9L-13.4 -6.5L-12.9 -7.2L-12.5 -7.9L-12.1 -8.6L-11.9 -9.4L-11.7 -10.3L-11.6 -11.4L-11.7 -12.7L-11.7 -14.1L-11.4 -15.2L-10.8 -16.2L-10.2 -17.0L-9.4 -17.6L-8.4 -18.0L-7.5 -18.3L-6.4 -18.3L-5.4 -18.1L-4.2 -17.4L-3.2 -16.6L-2.3 -16.1L-1.4 -15.9L-0.7 -15.7L0.1 -15.6L0.9 -15.7L1.6 -15.9L2.5 -16.1L3.4 -16.6L4.4 -17.4L5.6 -18.1L6.6 -18.3L7.7 -18.3L8.6 -18.0L9.6 -17.6L10.4 -17.0L11.0 -16.2L11.6 -15.2L11.9 -14.1L11.9 -12.7L11.8 -11.4L11.9 -10.3L12.1 -9.4L12.3 -8.6L12.7 -7.9L13.1 -7.2L13.6 -6.5L14.3 -5.9L15.1 -5.3L16.2 -4.7L17.4 -4.0L18.1 -3.1L18.6 -2.2L18.9 -1.2Z"/><circle r="6.200" fill="none" stroke="#333" stroke-width="2.500"/></svg>
<div class="t" style="left:176.90px;top:39.58px;font-size:35.0px;line-height:46px;color:#EAF1FD;font-weight:700;letter-spacing:0.09px;">14:56</div>
<div class="t" style="left:974.34px;top:48.09px;font-size:22.0px;line-height:29px;color:#EAF1FD;font-weight:700;letter-spacing:-0.02px;">92</div>
<div class="t" style="left:831.04px;top:42.10px;font-size:16.0px;line-height:21px;color:#EAF1FD;font-weight:700;letter-spacing:-0.13px;">HD</div>
<div class="t" style="left:441.57px;top:109.55px;font-size:47.5px;line-height:62px;color:#FFFFFF;letter-spacing:1.46px;">光莆股份</div>
<div class="t" style="left:483.51px;top:172.13px;font-size:33.0px;line-height:43px;color:#A9C8F6;letter-spacing:0.68px;">300632</div>
<div class="t" style="left:982.17px;top:170.09px;font-size:27.5px;line-height:36px;color:#BDD5F9;letter-spacing:0.7px;">教学</div>
<div class="t" style="left:71.29px;top:241.83px;font-size:78.5px;line-height:102px;color:#E5283C;font-weight:700;letter-spacing:0.08px;-webkit-text-stroke:1.6px #fff;">16.48</div>
<div class="t" style="left:52.81px;top:328.13px;font-size:39.5px;line-height:51px;color:#E5283C;letter-spacing:0.71px;">0.62</div>
<div class="t" style="left:161.48px;top:329.61px;font-size:38.0px;line-height:49px;color:#E5283C;letter-spacing:-0.06px;">+3.91%</div>
<div class="t" style="left:345.57px;top:257.78px;font-size:38.5px;line-height:50px;color:#9A9A9A;">开</div>
<div class="t" style="left:390.88px;top:257.94px;font-size:37.5px;line-height:49px;color:#21A149;">15.82</div>
<div class="t" style="left:345.36px;top:319.19px;font-size:38.0px;line-height:49px;color:#9A9A9A;">换</div>
<div class="t" style="left:390.94px;top:318.59px;font-size:36.5px;line-height:47px;color:#2B2B2B;letter-spacing:0.01px;">11.09%</div>
<div class="t" style="left:555.12px;top:259.75px;font-size:37.5px;line-height:49px;color:#9A9A9A;">高</div>
<div class="t" style="left:599.41px;top:258.76px;font-size:37.0px;line-height:48px;color:#E5283C;letter-spacing:0.08px;">16.70</div>
<div class="t" style="left:555.75px;top:318.81px;font-size:37.5px;line-height:49px;color:#9A9A9A;">低</div>
<div class="t" style="left:599.38px;top:317.44px;font-size:37.5px;line-height:49px;color:#21A149;letter-spacing:0.03px;">15.68</div>
<div class="t" style="left:765.89px;top:260.38px;font-size:37.0px;line-height:48px;color:#9A9A9A;">额</div>
<div class="t" style="left:810.88px;top:259.75px;font-size:37.5px;line-height:49px;color:#2B2B2B;letter-spacing:1.72px;">3.60亿</div>
<div class="t" style="left:765.60px;top:319.38px;font-size:38.0px;line-height:49px;color:#9A9A9A;letter-spacing:-0.08px;">市值</div>
<div class="t" style="left:848.48px;top:319.19px;font-size:38.0px;line-height:49px;color:#2B2B2B;letter-spacing:1.94px;">50.46亿</div>
<div class="t" style="left:19.68px;top:427.90px;font-size:37.5px;line-height:49px;color:#333333;letter-spacing:-0.26px;">13:</div>
<div class="t" style="left:72.03px;top:427.90px;font-size:37.5px;line-height:49px;color:#333333;letter-spacing:3.13px;">**</div>
<div class="t" style="left:91.75px;top:427.90px;font-size:37.5px;line-height:49px;color:#333333;letter-spacing:2.51px;">【AI分时高点】</div>
<div class="t" style="left:359.62px;top:427.90px;font-size:37.5px;line-height:49px;color:#333333;letter-spacing:3.12px;">***</div>
<div class="t" style="left:423.88px;top:427.90px;font-size:37.5px;line-height:49px;color:#333333;letter-spacing:1.22px;">解锁AI分时&gt;&gt;</div>
<div class="t" style="left:42.91px;top:522.56px;font-size:37.5px;line-height:49px;color:#333333;letter-spacing:0.3px;">分时</div>
<div class="t" style="left:204.16px;top:521.62px;font-size:37.5px;line-height:49px;color:#333333;letter-spacing:0.3px;">五日</div>
<div class="t" style="left:370.29px;top:521.62px;font-size:37.5px;line-height:49px;color:#3472C6;letter-spacing:0.3px;">日K</div>
<div class="t" style="left:534.16px;top:521.81px;font-size:37.5px;line-height:49px;color:#333333;letter-spacing:0.3px;">周K</div>
<div class="t" style="left:695.85px;top:521.62px;font-size:37.5px;line-height:49px;color:#333333;letter-spacing:0.3px;">月K</div>
<div class="t" style="left:851.85px;top:522.38px;font-size:37.5px;line-height:49px;color:#333333;letter-spacing:0.3px;">周期</div>
<div class="t" style="left:29.18px;top:587.70px;font-size:26.5px;line-height:34px;color:#333333;letter-spacing:1.47px;">MA(5,10,20,60)</div>
<div class="t" style="left:266.68px;top:587.70px;font-size:26.5px;line-height:34px;color:#333333;letter-spacing:1.38px;">2022/01/17</div>
<div class="t" style="left:426.64px;top:587.70px;font-size:26.5px;line-height:34px;color:#333333;letter-spacing:0.25px;">15.58</div>
<div class="t" style="left:510.14px;top:587.70px;font-size:26.5px;line-height:34px;color:#E6961E;letter-spacing:-0.43px;">15.19</div>
<div class="t" style="left:589.14px;top:587.70px;font-size:26.5px;line-height:34px;color:#C23CAB;letter-spacing:0.62px;">14.93</div>
<div class="t" style="left:673.14px;top:587.70px;font-size:26.5px;line-height:34px;color:#3F84B6;letter-spacing:0.75px;">14.35</div>
<div class="t" style="left:11.05px;top:1024.69px;font-size:29.0px;line-height:38px;color:#555555;letter-spacing:-0.08px;">2021/11/09</div>
<div class="t" style="left:923.05px;top:1024.69px;font-size:29.0px;line-height:38px;color:#555555;letter-spacing:0.13px;">2022/01/17</div>
<div class="t" style="left:961.50px;top:640.33px;font-size:28.5px;line-height:37px;color:#333333;letter-spacing:-0.7px;">16.70</div>
<div class="t" style="left:478.00px;top:972.33px;font-size:28.5px;line-height:37px;color:#333333;letter-spacing:-0.45px;">13.43</div>
<div class="t" style="left:30.38px;top:1064.40px;font-size:26.5px;line-height:34px;color:#333333;letter-spacing:1.39px;">主力资金</div>
<div class="t" style="left:175.54px;top:1064.40px;font-size:26.5px;line-height:34px;color:#C63A30;letter-spacing:1.32px;">净:2795万</div>
<div class="t" style="left:318.52px;top:1064.40px;font-size:26.5px;line-height:34px;color:#C63A30;letter-spacing:0.62px;">占:7.78%</div>
<div class="t" style="left:37.41px;top:1232.20px;font-size:26.5px;line-height:34px;color:#333333;letter-spacing:1.68px;">成交量</div>
<div class="t" style="left:160.94px;top:1232.20px;font-size:26.5px;line-height:34px;color:#C63A30;letter-spacing:0.78px;">量:22.21万手</div>
<div class="t" style="left:333.38px;top:1232.20px;font-size:26.5px;line-height:34px;color:#333333;letter-spacing:1.22px;">M1:14.64万</div>
<div class="t" style="left:493.38px;top:1232.20px;font-size:26.5px;line-height:34px;color:#E6961E;letter-spacing:2.07px;">M2:9.54万</div>
<div class="t" style="left:28.68px;top:1401.00px;font-size:26.5px;line-height:34px;color:#333333;letter-spacing:1.69px;">MACD(12,26,9)</div>
<div class="t" style="left:265.18px;top:1401.00px;font-size:26.5px;line-height:34px;color:#C63A30;letter-spacing:1.7px;">MACD:0.26</div>
<div class="t" style="left:430.88px;top:1401.00px;font-size:26.5px;line-height:34px;color:#333333;letter-spacing:1.11px;">DIF:0.38</div>
<div class="t" style="left:553.88px;top:1401.00px;font-size:26.5px;line-height:34px;color:#E6961E;letter-spacing:1.56px;">DEA:0.25</div>
<div class="t" style="left:28.88px;top:1570.50px;font-size:26.5px;line-height:34px;color:#333333;letter-spacing:1.49px;">KDJ(9,3,3)</div>
<div class="t" style="left:200.38px;top:1570.50px;font-size:26.5px;line-height:34px;color:#333333;letter-spacing:1.33px;">K:72.32</div>
<div class="t" style="left:312.88px;top:1570.50px;font-size:26.5px;line-height:34px;color:#E6961E;letter-spacing:0.04px;">D:61.16</div>
<div class="t" style="left:423.74px;top:1570.50px;font-size:26.5px;line-height:34px;color:#C23CAB;letter-spacing:1.26px;">J:94.64</div>
<div class="t" style="left:48.94px;top:1772.32px;font-size:39.0px;line-height:51px;color:#2F74D0;font-weight:500;letter-spacing:-0.38px;">事件</div>
<div class="t" style="left:222.74px;top:1772.40px;font-size:39.5px;line-height:51px;color:#2B2B2B;font-weight:500;letter-spacing:0.35px;">盯盘</div>
<div class="t" style="left:402.00px;top:1772.32px;font-size:39.0px;line-height:51px;color:#2B2B2B;font-weight:500;letter-spacing:-0.23px;">AI诊股</div>
<div class="t" style="left:614.33px;top:1772.12px;font-size:39.0px;line-height:51px;color:#2B2B2B;font-weight:500;letter-spacing:-0.27px;">股性</div>
<div class="t" style="left:790.33px;top:1772.32px;font-size:39.0px;line-height:51px;color:#2B2B2B;font-weight:500;letter-spacing:-0.38px;">股东</div>
<div class="t" style="left:965.19px;top:1772.03px;font-size:38.5px;line-height:50px;color:#2B2B2B;font-weight:700;letter-spacing:-0.07px;-webkit-text-stroke:1.1px #F7F7F7;">F10</div>
<div class="t" style="left:74.73px;top:1867.82px;font-size:38.5px;line-height:50px;color:#FFFFFF;letter-spacing:0.2px;">全部</div>
<div class="t" style="left:283.55px;top:1867.32px;font-size:39.0px;line-height:51px;color:#333333;letter-spacing:-0.1px;">重要</div>
<div class="t" style="left:493.55px;top:1867.12px;font-size:39.0px;line-height:51px;color:#333333;letter-spacing:-0.1px;">公告</div>
<div class="t" style="left:704.36px;top:1868.44px;font-size:38.0px;line-height:49px;color:#333333;letter-spacing:0.28px;">研报</div>
<div class="t" style="left:875.85px;top:1867.63px;font-size:38.5px;line-height:50px;color:#333333;letter-spacing:-0.06px;">涨停揭秘</div>
<div class="t" style="left:11.49px;top:1958.06px;font-size:33.5px;line-height:44px;color:#555555;letter-spacing:0.13px;">01-15</div>
<div class="t" style="left:158.33px;top:1962.85px;font-size:44.5px;line-height:58px;color:#2F74D0;font-weight:700;letter-spacing:-2.7px;">LED</div>
<div class="t" style="left:242.18px;top:1960.44px;font-size:44.0px;line-height:57px;color:#2F74D0;font-weight:700;transform:scaleX(1.8);transform-origin:0 50%;">-</div>
<div class="t" style="left:269.13px;top:1965.78px;font-size:43.5px;line-height:57px;color:#2F74D0;font-weight:500;letter-spacing:0.06px;">行业发展</div>
<div class="t" style="left:996.52px;top:1973.35px;font-size:32.5px;line-height:42px;color:#2272DC;font-weight:500;letter-spacing:-0.22px;">定位</div>
<div class="t" style="left:157.00px;top:2025.94px;font-size:37.5px;line-height:49px;color:#404040;font-weight:500;">国内首台，</div>
<div class="t" style="left:338.36px;top:2026.69px;font-size:38.0px;line-height:49px;color:#404040;font-weight:500;letter-spacing:0.05px;">柔性显示产业全产业链关键环节落子合肥</div>
<div class="t" style="left:80.28px;top:2100.12px;font-size:43.0px;line-height:56px;color:#2A2A2A;font-weight:500;letter-spacing:0.19px;-webkit-text-stroke:0.5px #2A2A2A;">上证指数</div>
<div class="t" style="left:68.31px;top:2155.15px;font-size:34.5px;line-height:45px;color:#D92B45;font-weight:700;letter-spacing:0.05px;-webkit-text-stroke:0.8px #fff;">3543.09 +0.62%</div>
<div class="t" style="left:472.70px;top:2163.26px;font-size:32.5px;line-height:42px;color:#333333;letter-spacing:1.05px;">交易</div>
<div class="t" style="left:703.05px;top:2160.72px;font-size:31.5px;line-height:41px;color:#333333;letter-spacing:0.39px;">预警</div>
<div class="t" style="left:899.52px;top:2163.10px;font-size:32.5px;line-height:42px;color:#333333;letter-spacing:0.32px;">删除自选</div>
<div class="t" style="left:519.08px;top:2090.24px;font-size:21.0px;line-height:27px;color:#FFFFFF;font-weight:500;letter-spacing:-0.34px;">万1.5</div>
</body></html>
